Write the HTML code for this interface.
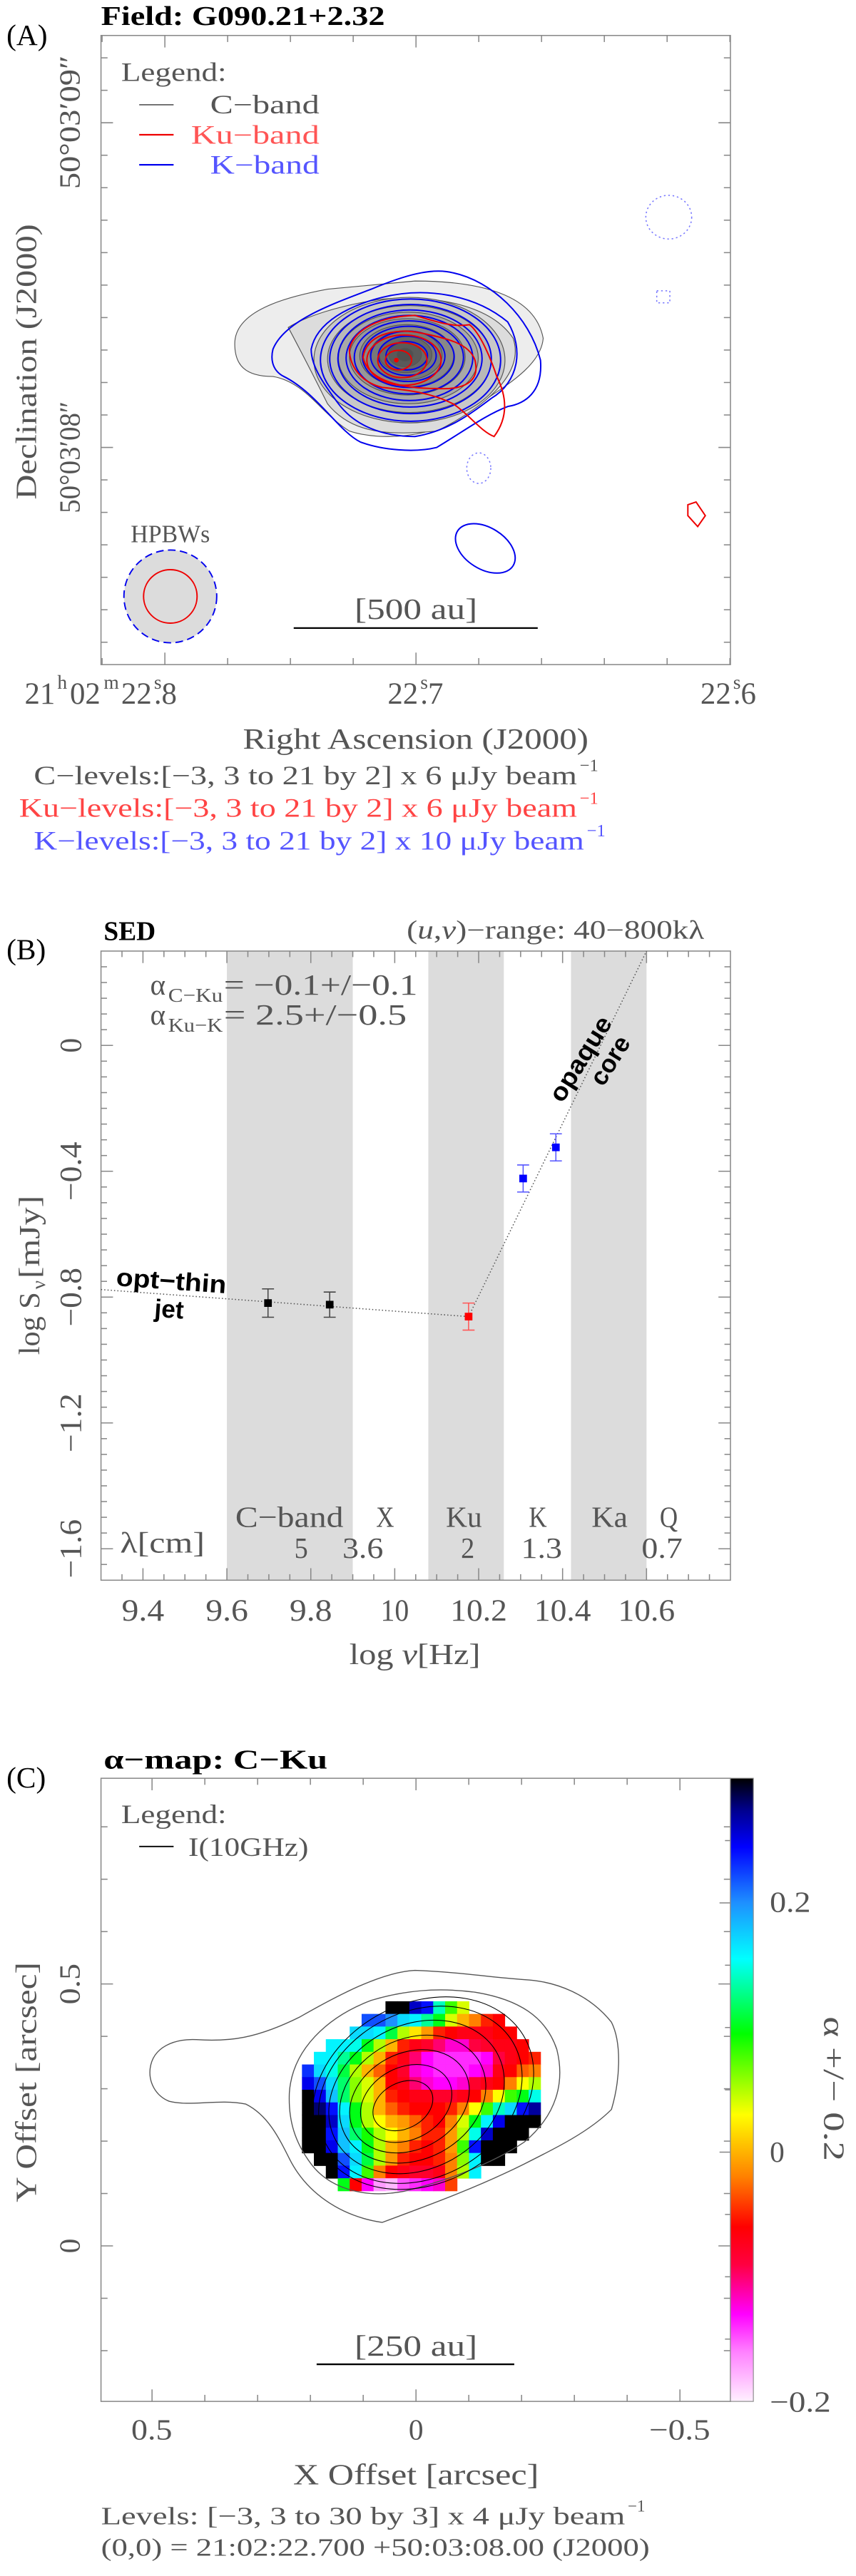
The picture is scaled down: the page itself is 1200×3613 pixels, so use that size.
<!DOCTYPE html>
<html><head><meta charset="utf-8"><title>G090.21+2.32 figure</title>
<style>
html,body{margin:0;padding:0;background:#fff;}
svg{display:block;}
text{font-family:"Liberation Serif",serif;}
</style></head>
<body>
<svg id="fig" width="1200" height="3613" viewBox="0 0 1200 3613" xmlns="http://www.w3.org/2000/svg">
<rect x="0" y="0" width="1200" height="3613" fill="#fff"/>

<!-- ================= PANEL A ================= -->
<g id="pA" transform="scale(0.76531)">
  <text x="12" y="82" font-size="54" fill="#000">(A)</text>
  <text x="185" y="46" font-size="50" font-weight="bold" fill="#000" textLength="520" lengthAdjust="spacingAndGlyphs">Field:  G090.21+2.32</text>
  <rect x="185" y="65" width="1153" height="1153" fill="#fff" stroke="#888" stroke-width="2"/>
  <g id="pA-ticks"></g>

  <g stroke="#555" stroke-width="1.5">
    <path d="M430,630 C430,570 520,545 600,530 L760,515 C880,515 980,540 995,620 C990,680 900,720 850,760 C800,800 700,810 640,790 C590,760 560,700 500,690 C450,690 430,670 430,630Z" fill="#ededed"/>
    <path d="M528,600 C560,580 620,560 700,548 C800,540 900,560 940,620 C960,680 900,740 800,790 C700,800 640,790 600,740 C580,700 560,660 528,600Z" fill="#dcdcdc"/>
    <ellipse cx="750" cy="660" rx="175" ry="115" fill="#c8c8c8"/>
    <ellipse cx="750" cy="658" rx="150" ry="98" fill="#b8b8b8"/>
    <ellipse cx="748" cy="656" rx="128" ry="84" fill="#a8a8a8"/>
    <ellipse cx="746" cy="654" rx="106" ry="70" fill="#989898"/>
    <ellipse cx="745" cy="652" rx="86" ry="57" fill="#888"/>
    <ellipse cx="744" cy="651" rx="66" ry="45" fill="#787878"/>
    <ellipse cx="743" cy="650" rx="48" ry="33" fill="#686868"/>
    <ellipse cx="742" cy="650" rx="30" ry="22" fill="#5a5a5a"/>
    <ellipse cx="742" cy="650" rx="15" ry="12" fill="#505050"/>
  </g>
  <g fill="none" stroke="#0000ee" stroke-width="2.6">
    <path d="M500,640 C520,590 600,560 680,530 C740,505 790,490 830,500 C900,515 970,580 990,660 C995,720 960,740 930,745 C890,760 850,790 800,820 C760,830 700,825 660,810 C620,790 580,720 520,690 C500,680 495,660 500,640Z"/>
    <path d="M570,640 C580,590 640,560 700,545 C780,525 870,540 930,590 C960,640 950,700 900,730 C860,760 820,790 760,800 C700,800 650,780 620,740 C590,700 570,670 570,640Z"/>
    <ellipse cx="752" cy="660" rx="165" ry="112"/>
    <ellipse cx="752" cy="658" rx="148" ry="100"/>
    <ellipse cx="751" cy="657" rx="132" ry="89"/>
    <ellipse cx="750" cy="656" rx="116" ry="78"/>
    <ellipse cx="749" cy="655" rx="100" ry="67"/>
    <ellipse cx="748" cy="654" rx="84" ry="56"/>
    <ellipse cx="747" cy="653" rx="68" ry="46"/>
    <ellipse cx="746" cy="652" rx="53" ry="36"/>
    <ellipse cx="745" cy="652" rx="38" ry="26"/>
    <ellipse cx="889" cy="1005" rx="60" ry="38" transform="rotate(32 889 1005)"/>
  </g>
  <g fill="none" stroke="#7777ff" stroke-width="2" stroke-dasharray="3,5">
    <ellipse cx="1225" cy="398" rx="42" ry="40"/>
    <rect x="1203" y="533" width="24" height="22"/>
    <ellipse cx="877" cy="858" rx="22" ry="28"/>
  </g>
  <g fill="none" stroke="#ee0000" stroke-width="2.6">
    <path d="M640,640 C650,600 700,580 760,578 C800,590 830,600 860,595 C880,610 900,660 910,690 C925,720 935,760 905,800 C880,790 860,760 830,740 C790,720 750,715 700,710 C660,700 640,670 640,640Z"/>
    <path d="M665,655 C670,615 720,600 770,610 C820,620 860,630 870,660 C880,700 850,715 800,712 C740,712 675,700 665,655Z"/>
    <ellipse cx="740" cy="660" rx="68" ry="46"/>
    <ellipse cx="737" cy="660" rx="45" ry="32"/>
    <ellipse cx="730" cy="660" rx="24" ry="18"/>
    <circle cx="726" cy="660" r="3" fill="#ee0000"/>
    <path d="M1260,925 L1275,920 L1292,945 L1278,965 L1260,945Z"/>
  </g>
  <g>
    <text x="312" y="994" font-size="46" fill="#555" text-anchor="middle" textLength="145" lengthAdjust="spacingAndGlyphs">HPBWs</text>
    <circle cx="312" cy="1093" r="85" fill="#dcdcdc" stroke="#0000ee" stroke-width="2.5" stroke-dasharray="14,8"/>
    <circle cx="312" cy="1093" r="49" fill="none" stroke="#ee0000" stroke-width="2.5"/>
  </g>
  <g>
    <line x1="538" y1="1151" x2="985" y2="1151" stroke="#000" stroke-width="3"/>
    <text x="762" y="1134" font-size="54" fill="#555" text-anchor="middle" textLength="225" lengthAdjust="spacingAndGlyphs">[500 au]</text>
  </g>
  <g font-size="48">
    <text x="222" y="148" fill="#555" textLength="193" lengthAdjust="spacingAndGlyphs">Legend:</text>
    <line x1="255" y1="192" x2="318" y2="192" stroke="#555" stroke-width="2"/>
    <text x="385" y="208" fill="#555" textLength="200" lengthAdjust="spacingAndGlyphs">C−band</text>
    <line x1="255" y1="247" x2="318" y2="247" stroke="#ee0000" stroke-width="3"/>
    <text x="350" y="263" fill="#ff5555" textLength="235" lengthAdjust="spacingAndGlyphs">Ku−band</text>
    <line x1="255" y1="302" x2="318" y2="302" stroke="#0000ee" stroke-width="3"/>
    <text x="385" y="318" fill="#5555ff" textLength="200" lengthAdjust="spacingAndGlyphs">K−band</text>
  </g>
  <text transform="translate(146,224) rotate(-90)" font-size="54" fill="#555" text-anchor="middle" textLength="245" lengthAdjust="spacingAndGlyphs">50°03′09″</text>
  <text transform="translate(146,838) rotate(-90)" font-size="54" fill="#555" text-anchor="middle" textLength="205" lengthAdjust="spacingAndGlyphs">50°03′08″</text>
  <text transform="translate(66,663) rotate(-90)" font-size="54" fill="#555" text-anchor="middle" textLength="505" lengthAdjust="spacingAndGlyphs">Declination (J2000)</text>
  <g font-size="56" fill="#555">
    <text x="45" y="1290">21</text><text x="105" y="1262" font-size="36">h</text>
    <text x="128" y="1290">02</text><text x="190" y="1262" font-size="36">m</text>
    <text x="222" y="1290">22</text><text x="282" y="1262" font-size="36">s</text><text x="282" y="1290">.8</text>
    <text x="710" y="1290">22</text><text x="770" y="1262" font-size="36">s</text><text x="770" y="1290">.7</text>
    <text x="1283" y="1290">22</text><text x="1343" y="1262" font-size="36">s</text><text x="1343" y="1290">.6</text>
  </g>
  <text x="445" y="1372" font-size="54" fill="#555" textLength="633" lengthAdjust="spacingAndGlyphs">Right Ascension (J2000)</text>
  <text x="62" y="1437" font-size="48" fill="#555" textLength="995" lengthAdjust="spacingAndGlyphs">C−levels:[−3, 3 to 21 by 2] x  6 μJy beam</text>
  <text x="1062" y="1413" font-size="32" fill="#555">−1</text>
  <text x="35" y="1497" font-size="48" fill="#ff4444" textLength="1022" lengthAdjust="spacingAndGlyphs">Ku−levels:[−3, 3 to 21 by 2] x  6 μJy beam</text>
  <text x="1062" y="1473" font-size="32" fill="#ff4444">−1</text>
  <text x="62" y="1557" font-size="48" fill="#5555ff" textLength="1008" lengthAdjust="spacingAndGlyphs">K−levels:[−3, 3 to 21 by 2] x 10 μJy beam</text>
  <text x="1075" y="1533" font-size="32" fill="#5555ff">−1</text>
</g>

<!-- ================= PANEL B ================= -->
<g id="pB" transform="translate(0,1200) scale(0.76531)">
  <text x="12" y="190" font-size="54" fill="#000">(B)</text>
  <text x="190" y="155" font-size="50" font-weight="bold" fill="#000" textLength="95" lengthAdjust="spacingAndGlyphs">SED</text>
  <text x="745" y="152" font-size="48" fill="#555" textLength="545" lengthAdjust="spacingAndGlyphs">(<tspan font-style="italic">u</tspan>,<tspan font-style="italic">v</tspan>)−range:   40−800kλ</text>
  <g id="pB-bands"></g>
  <rect x="185" y="175" width="1153" height="1153" fill="none" stroke="#888" stroke-width="2"/>
  <g id="pB-ticks"></g>
  <g id="pB-marks"></g>
  <g id="pB-labels"></g>
  <g fill="#555">
    <text x="275" y="255" font-size="54">α</text>
    <text x="308" y="268" font-size="36" textLength="100" lengthAdjust="spacingAndGlyphs">C−Ku</text>
    <text x="410" y="255" font-size="54" textLength="355" lengthAdjust="spacingAndGlyphs">= −0.1+/−0.1</text>
  </g>
  <g fill="#555">
    <text x="275" y="310" font-size="54">α</text>
    <text x="308" y="323" font-size="36" textLength="100" lengthAdjust="spacingAndGlyphs">Ku−K</text>
    <text x="410" y="310" font-size="54" textLength="335" lengthAdjust="spacingAndGlyphs">=  2.5+/−0.5</text>
  </g>
  <text transform="translate(212,788) rotate(4)" font-size="46" font-weight="bold" fill="#000" style="font-family:'Liberation Sans',sans-serif" textLength="202" lengthAdjust="spacingAndGlyphs">opt−thin</text>
  <text transform="translate(282,845) rotate(4)" font-size="46" font-weight="bold" fill="#000" style="font-family:'Liberation Sans',sans-serif">jet</text>
  <text transform="translate(1030,455) rotate(-58)" font-size="46" font-weight="bold" fill="#000" style="font-family:'Liberation Sans',sans-serif" textLength="175" lengthAdjust="spacingAndGlyphs">opaque</text>
  <text transform="translate(1105,425) rotate(-58)" font-size="46" font-weight="bold" fill="#000" style="font-family:'Liberation Sans',sans-serif">core</text>
  <text x="220" y="1277" font-size="54" fill="#555" textLength="155" lengthAdjust="spacingAndGlyphs">λ[cm]</text>
  <g fill="#555">
    <text transform="translate(72,915) rotate(-90)" font-size="54" textLength="115" lengthAdjust="spacingAndGlyphs">log S</text>
    <text transform="translate(82,795) rotate(-90)" font-size="36">ν</text>
    <text transform="translate(72,775) rotate(-90)" font-size="54" textLength="152" lengthAdjust="spacingAndGlyphs">[mJy]</text>
  </g>
  <text x="640" y="1482" font-size="54" fill="#555" textLength="240" lengthAdjust="spacingAndGlyphs">log <tspan font-style="italic">ν</tspan>[Hz]</text>
</g>

<!-- ================= PANEL C ================= -->
<g id="pC" transform="translate(0,2400) scale(0.76531)">
  <text x="12" y="140" font-size="54" fill="#000">(C)</text>
  <text x="190" y="105" font-size="50" font-weight="bold" fill="#000" textLength="410" lengthAdjust="spacingAndGlyphs">α−map:   C−Ku</text>
  <rect x="185" y="123" width="1153" height="1142" fill="#fff"/>
  <g id="pC-cells"></g>
  <g fill="none" stroke="#555" stroke-width="1.8">
    <path d="M275,655 C280,615 320,600 360,602 C420,606 470,600 550,560 C620,520 700,478 760,475 C840,478 900,488 960,492 C1020,495 1080,520 1120,570 C1140,610 1135,680 1120,730 C1080,770 1020,800 960,830 C880,870 800,900 700,937 C620,925 560,880 530,820 C510,780 490,740 450,720 C400,710 350,725 310,715 C285,705 272,680 275,655Z"/>
    <path d="M530,700 C535,620 600,560 680,530 C740,512 800,506 870,515 C950,528 1000,560 1020,620 C1035,680 1020,740 960,790 C900,830 820,860 740,880 C660,895 600,870 570,830 C540,790 528,750 530,700Z"/>
  </g>
  <g fill="none" stroke="#000" stroke-width="1.4">
    <ellipse cx="738" cy="723" rx="58" ry="42" transform="rotate(-28 738 723)"/>
    <ellipse cx="744" cy="719" rx="88" ry="66" transform="rotate(-28 744 719)"/>
    <ellipse cx="750" cy="715" rx="115" ry="88" transform="rotate(-28 750 715)"/>
    <ellipse cx="756" cy="711" rx="140" ry="110" transform="rotate(-28 756 711)"/>
    <ellipse cx="763" cy="707" rx="168" ry="132" transform="rotate(-28 763 707)"/>
    <ellipse cx="770" cy="703" rx="195" ry="152" transform="rotate(-28 770 703)"/>
    <ellipse cx="775" cy="700" rx="212" ry="165" transform="rotate(-28 775 700)"/>
  </g>
  <rect x="185" y="123" width="1153" height="1142" fill="none" stroke="#888" stroke-width="2"/>
  <g id="pC-ticks"></g>
  <defs><linearGradient id="cbar" x1="0" y1="1" x2="0" y2="0"></linearGradient></defs>
  <rect id="cbarRect" x="1338" y="123" width="42" height="1142" fill="url(#cbar)" stroke="#888" stroke-width="1.5"/>
  <g id="cbar-ticks"></g>
  <text x="1410" y="368" font-size="54" fill="#555" textLength="75" lengthAdjust="spacingAndGlyphs">0.2</text>
  <text x="1410" y="826" font-size="54" fill="#555">0</text>
  <text x="1410" y="1284" font-size="54" fill="#555" textLength="112" lengthAdjust="spacingAndGlyphs">−0.2</text>
  <text transform="translate(1510,692) rotate(90)" font-size="54" fill="#555" text-anchor="middle" textLength="265" lengthAdjust="spacingAndGlyphs">α +/− 0.2</text>
  <g font-size="48">
    <text x="222" y="205" fill="#555" textLength="193" lengthAdjust="spacingAndGlyphs">Legend:</text>
    <line x1="255" y1="248" x2="318" y2="248" stroke="#000" stroke-width="2.5"/>
    <text x="345" y="265" fill="#555" textLength="220" lengthAdjust="spacingAndGlyphs">I(10GHz)</text>
  </g>
  <g>
    <line x1="580" y1="1197" x2="942" y2="1197" stroke="#000" stroke-width="3"/>
    <text x="762" y="1181" font-size="54" fill="#555" text-anchor="middle" textLength="225" lengthAdjust="spacingAndGlyphs">[250 au]</text>
  </g>
  <text transform="translate(146,500) rotate(-90)" font-size="54" fill="#555" text-anchor="middle" textLength="75" lengthAdjust="spacingAndGlyphs">0.5</text>
  <text transform="translate(146,980) rotate(-90)" font-size="54" fill="#555" text-anchor="middle">0</text>
  <text transform="translate(66,680) rotate(-90)" font-size="54" fill="#555" text-anchor="middle" textLength="440" lengthAdjust="spacingAndGlyphs">Y Offset [arcsec]</text>
  <text x="278" y="1335" font-size="54" fill="#555" text-anchor="middle" textLength="75" lengthAdjust="spacingAndGlyphs">0.5</text>
  <text x="762" y="1335" font-size="54" fill="#555" text-anchor="middle">0</text>
  <text x="1245" y="1335" font-size="54" fill="#555" text-anchor="middle" textLength="112" lengthAdjust="spacingAndGlyphs">−0.5</text>
  <text x="762" y="1417" font-size="54" fill="#555" text-anchor="middle" textLength="450" lengthAdjust="spacingAndGlyphs">X Offset [arcsec]</text>
  <text x="185" y="1490" font-size="46" fill="#555" textLength="960" lengthAdjust="spacingAndGlyphs">Levels: [−3, 3 to 30 by 3] x  4 μJy beam</text>
  <text x="1150" y="1467" font-size="30" fill="#555">−1</text>
  <text x="185" y="1548" font-size="46" fill="#555" textLength="1005" lengthAdjust="spacingAndGlyphs">(0,0) = 21:02:22.700   +50:03:08.00   (J2000)</text>
</g>
</svg>

<script>
// ---------- Panel B data ----------
const bandStarts = [9.6, 10.08, 10.42];
const bandEnds = [9.9, 10.26, 10.6];
const sedFreqs = [9.698, 9.845, 10.176, 10.306, 10.384];
const sedFluxes = [-0.819, -0.824, -0.862, -0.423, -0.324];
const sedErrors = [0.045, 0.04, 0.043, 0.043, 0.043];
const sedBands = ['C', 'C', 'Ku', 'K', 'K'];
const thinFitX = [9.3, 10.176];
const thinFitY = [-0.776, -0.862];
const thickFitX = [10.176, 10.6];
const thickFitY = [-0.862, 0.3];
const xTickValues = [9.4, 9.6, 9.8, 10, 10.2, 10.4, 10.6];
const xTickLabels = ['9.4', '9.6', '9.8', '10', '10.2', '10.4', '10.6'];
const yTickValues = [0, -0.4, -0.8, -1.2, -1.6];
const yTickLabels = ['0', '−0.4', '−0.8', '−1.2', '−1.6'];
const bandNames = ['C−band', 'X', 'Ku', 'K', 'Ka', 'Q'];
const bandNamePos = [9.749, 9.977, 10.165, 10.341, 10.512, 10.653];
const wavelengths = ['5', '3.6', '2', '1.3', '0.7'];
const wavelengthPos = [9.777, 9.924, 10.174, 10.35, 10.637];

// ---------- Panel C data (spectral index map, 20 x 15 cells) ----------
const alphaRow0 = [null,null,null,null,null,null,null,.32,.32,.26,.24,.14,.08,.04,null,null,null,null,null,null];
const alphaRow1 = [null,null,null,null,null,.22,.22,.20,.17,.16,.13,.10,.04,0,-.02,-.05,-.06,null,null,null];
const alphaRow2 = [null,null,null,null,.17,.17,.16,.11,.05,.02,-.01,-.05,-.06,-.07,-.07,-.07,-.06,-.06,null,null];
const alphaRow3 = [null,null,.16,.16,.15,.10,.05,0,-.05,-.07,-.08,-.10,-.12,-.12,-.09,-.08,-.07,-.07,-.06,null];
const alphaRow4 = [null,.16,.16,.13,.10,.05,0,-.05,-.07,-.10,-.13,-.14,-.14,-.14,-.14,-.13,-.09,-.07,-.06,-.05];
const alphaRow5 = [.23,.17,.15,.11,.05,0,-.03,-.06,-.08,-.12,-.13,-.14,-.14,-.14,-.13,-.12,-.07,-.06,-.03,-.02];
const alphaRow6 = [.25,.22,.17,.12,.06,.04,0,-.06,-.07,-.10,-.12,-.13,-.13,-.12,-.08,-.07,-.06,-.02,.03,.05];
const alphaRow7 = [.32,.25,.18,.12,.06,.04,0,-.05,-.06,-.07,-.07,-.08,-.08,-.07,-.06,-.02,.03,.08,.10,.15];
const alphaRow8 = [.32,.28,.24,.16,.10,.05,0,-.03,-.05,-.06,-.06,-.06,-.05,-.02,.03,.08,.14,.17,.24,.27];
const alphaRow9 = [.32,.32,.26,.17,.10,.05,.03,0,-.01,-.03,-.05,-.06,-.02,.04,.10,.16,.25,.32,.32,.32];
const alphaRow10 = [.32,.32,.24,.18,.12,.09,.05,.03,0,-.02,-.05,-.05,-.01,.05,.15,.26,.32,.32,.32,null];
const alphaRow11 = [.32,.32,.25,.18,.16,.10,.05,0,-.02,-.05,-.06,-.05,-.01,.08,.24,.32,.32,.32,null,null];
const alphaRow12 = [null,.32,.30,.22,.17,.11,.05,-.01,-.05,-.06,-.06,-.05,-.02,.06,.16,.32,.32,null,null,null];
const alphaRow13 = [null,null,.32,.24,.16,.08,-.02,-.06,-.07,-.08,-.08,-.07,-.02,.05,.16,null,null,null,null,null];
const alphaRow14 = [null,null,null,.10,-.06,-.13,-.17,-.18,-.15,-.14,-.13,-.12,-.04,null,null,null,null,null,null,null];
const alphaGrid = [alphaRow0,alphaRow1,alphaRow2,alphaRow3,alphaRow4,alphaRow5,alphaRow6,alphaRow7,alphaRow8,alphaRow9,alphaRow10,alphaRow11,alphaRow12,alphaRow13,alphaRow14];
const alphaX0Arcsec = 0.216;
const alphaX1Arcsec = -0.236;
const alphaY0Arcsec = 0.467;
const alphaY1Arcsec = 0.105;
const colorbarMin = -0.2;
const colorbarMax = 0.3;

const NS = 'http://www.w3.org/2000/svg';
function mk(tag, attrs, parent) {
  const el = document.createElementNS(NS, tag);
  for (const k in attrs) el.setAttribute(k, attrs[k]);
  parent.appendChild(el);
  return el;
}

function drawTicks(g, x0, x1, y0, y1, xs, ys, majLen, minLen) {
  xs.forEach(t => {
    const L = t.major ? majLen : minLen;
    const a = mk('line', {x1: t.p, y1: y1, x2: t.p, y2: y1 - L, stroke: '#888', 'stroke-width': 2}, g);
    
    
    const b = mk('line', {x1: t.p, y1: y0, x2: t.p, y2: y0 + L, stroke: '#888', 'stroke-width': 2}, g);
    
    
  });
  ys.forEach(t => {
    const L = t.major ? majLen : minLen;
    const a = mk('line', {x1: x0, y1: t.p, x2: x0 + L, y2: t.p, stroke: '#888', 'stroke-width': 2}, g);
    
    
    const b = mk('line', {x1: x1, y1: t.p, x2: x1 - L, y2: t.p, stroke: '#888', 'stroke-width': 2}, g);
    
    
  });
}

(function () {
  const xs = [];
  for (let k = -1; k <= 9; k++) { const p = 302 + 115 * k; xs.push({p: p, major: (k === 0 || k === 4)}); }
  const ys = [];
  for (let k = -2; k <= 16; k++) { const p = 225 + 59.5 * k; if (p > 66 && p < 1217) ys.push({p: p, major: (k === 0 || k === 10)}); }
  drawTicks(document.getElementById('pA-ticks'), 185, 1338, 65, 1218, xs, ys, 22, 12);
})();

const BX0 = 185, BX1 = 1338, BY0 = 175, BY1 = 1328;
function xB(v) { return BX0 + (v - 9.3) / 1.5 * (BX1 - BX0); }
function yB(s) { return BY0 + (0.3 - s) / 2.0 * (BY1 - BY0); }

(function () {
  const bg = document.getElementById('pB-bands');
  bandStarts.forEach((s, i) => {
    const r = mk('rect', {x: xB(s), y: BY0, width: xB(bandEnds[i]) - xB(s), height: BY1 - BY0, fill: '#dcdcdc'}, bg);
    
    
  });
  const tg = document.getElementById('pB-ticks');
  const xs = [];
  for (let v = 9.35; v < 10.8; v += 0.05) { const mj = Math.abs(v * 5 - Math.round(v * 5)) < 1e-6; xs.push({p: xB(v), major: mj}); }
  const ys = [];
  for (let s = 0.25; s > -1.7; s -= 0.05) { const mj = Math.abs(s / 0.4 - Math.round(s / 0.4)) < 1e-6; ys.push({p: yB(s), major: mj}); }
  drawTicks(tg, BX0, BX1, BY0, BY1, xs, ys, 22, 11);

  const lg = document.getElementById('pB-labels');
  xTickValues.forEach((v, i) => {
    const t = mk('text', {x: xB(v), y: 1402, 'font-size': 56, fill: '#555', 'text-anchor': 'middle', textLength: xTickLabels[i].length * 26, lengthAdjust: 'spacingAndGlyphs'}, lg);
    t.textContent = xTickLabels[i];
    
    
  });
  yTickValues.forEach((v, i) => {
    const t = mk('text', {transform: 'translate(148,' + yB(v) + ') rotate(-90)', 'font-size': 56, fill: '#555', 'text-anchor': 'middle', textLength: yTickLabels[i].length * 27, lengthAdjust: 'spacingAndGlyphs'}, lg);
    t.textContent = yTickLabels[i];
    
    
  });
  bandNames.forEach((n, i) => {
    const t = mk('text', {x: xB(bandNamePos[i]), y: 1230, 'font-size': 54, fill: '#555', 'text-anchor': 'middle', textLength: n.length * 33, lengthAdjust: 'spacingAndGlyphs'}, lg);
    t.textContent = n;
    
    
  });
  wavelengths.forEach((n, i) => {
    const t = mk('text', {x: xB(wavelengthPos[i]), y: 1287, 'font-size': 54, fill: '#555', 'text-anchor': 'middle', textLength: n.length * 25, lengthAdjust: 'spacingAndGlyphs'}, lg);
    t.textContent = n;
    
    
  });

  const mg = document.getElementById('pB-marks');
  const l1 = mk('polyline', {points: thinFitX.map((x, i) => xB(x) + ',' + yB(thinFitY[i])).join(' '), fill: 'none', stroke: '#555', 'stroke-width': 2, 'stroke-dasharray': '2,4'}, mg);
  
  
  const l2 = mk('polyline', {points: thickFitX.map((x, i) => xB(x) + ',' + yB(thickFitY[i])).join(' '), fill: 'none', stroke: '#555', 'stroke-width': 2, 'stroke-dasharray': '2,4'}, mg);
  
  
  const bandColor = {C: ['#000', '#444'], Ku: ['#ff0000', '#ff5555'], K: ['#0000ff', '#5555ff']};
  sedFreqs.forEach((f, i) => {
    const cx = xB(f), cy = yB(sedFluxes[i]);
    const yTop = yB(sedFluxes[i] + sedErrors[i]), yBot = yB(sedFluxes[i] - sedErrors[i]);
    const c = bandColor[sedBands[i]];
    const e = mk('path', {d: 'M' + cx + ',' + yTop + 'V' + yBot + 'M' + (cx - 11) + ',' + yTop + 'H' + (cx + 11) + 'M' + (cx - 11) + ',' + yBot + 'H' + (cx + 11), stroke: c[1], 'stroke-width': 2, fill: 'none'}, mg);
    
    
    const p = mk('rect', {x: cx - 7, y: cy - 7, width: 14, height: 14, fill: c[0]}, mg);
    
    
  });
})();

const CX0 = 185, CX1 = 1338, CY0 = 123, CY1 = 1265;
function xC(a) { return 762 - a * 967; }
function yC(a) { return 980 - a * 960; }
const cmapStops = [[-0.2,[255,240,255]],[-0.16,[255,128,255]],[-0.13,[255,0,255]],[-0.09,[255,0,64]],[-0.06,[255,0,0]],[-0.02,[255,128,0]],[0.03,[255,255,0]],[0.095,[0,255,0]],[0.155,[0,255,255]],[0.2,[30,144,255]],[0.245,[0,0,255]],[0.275,[0,0,139]],[0.3,[0,0,0]]];
function cmap(v) {
  if (v <= cmapStops[0][0]) return 'rgb(' + cmapStops[0][1].join(',') + ')';
  for (let i = 1; i < cmapStops.length; i++) {
    if (v <= cmapStops[i][0]) {
      const a = cmapStops[i - 1], b = cmapStops[i];
      const t = (v - a[0]) / (b[0] - a[0]);
      return 'rgb(' + a[1].map((c, k) => Math.round(c + (b[1][k] - c) * t)).join(',') + ')';
    }
  }
  return 'rgb(0,0,0)';
}
(function () {
  const cg = document.getElementById('pC-cells');
  const nr = alphaGrid.length, nc = alphaGrid[0].length;
  const px0 = xC(alphaX0Arcsec), px1 = xC(alphaX1Arcsec), py0 = yC(alphaY0Arcsec), py1 = yC(alphaY1Arcsec);
  const cw = (px1 - px0) / nc, ch = (py1 - py0) / nr;
  alphaGrid.forEach((row, r) => {
    row.forEach((v, c) => {
      if (v === null) return;
      const cell = mk('rect', {x: px0 + c * cw, y: py0 + r * ch, width: cw + 0.6, height: ch + 0.6, fill: cmap(v)}, cg);
      
      
    });
  });
  const grad = document.getElementById('cbar');
  cmapStops.forEach(s => {
    mk('stop', {offset: ((s[0] - colorbarMin) / (colorbarMax - colorbarMin)), 'stop-color': 'rgb(' + s[1].join(',') + ')'}, grad);
  });
  const tg = document.getElementById('pC-ticks');
  const xs = [];
  for (let k = -6; k <= 6; k++) { const p = xC(k * 0.1); if (p > CX0 + 2 && p < CX1 - 2) xs.push({p: p, major: k % 5 === 0}); }
  const ys = [];
  for (let k = -3; k <= 9; k++) { const p = yC(k * 0.1); if (p > CY0 + 2 && p < CY1 - 2) ys.push({p: p, major: k % 5 === 0}); }
  drawTicks(tg, CX0, CX1, CY0, CY1, xs, ys, 22, 12);
  const cb = document.getElementById('cbar-ticks');
  for (let k = -3; k <= 5; k++) {
    const v = k * 0.05;
    const p = CY1 - (v - colorbarMin) / (colorbarMax - colorbarMin) * (CY1 - CY0);
    const L = (k % 4 === 0) ? 20 : 10;
    const t = mk('line', {x1: 1338, y1: p, x2: 1338 - L, y2: p, stroke: '#888', 'stroke-width': 2}, cb);
    
    
  }
})();
</script>
</body></html>
